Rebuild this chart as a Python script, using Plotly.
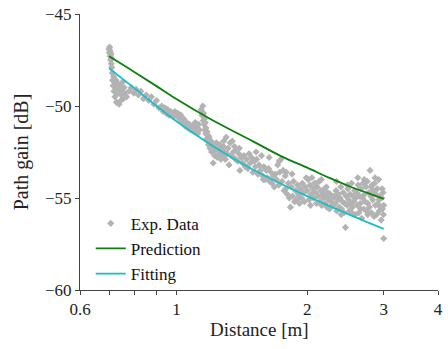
import math
import plotly.graph_objects as go

# ---- experimental data (distance in m, path gain in dB) ----
exp_distance = [
    0.700, 0.701, 0.702, 0.703, 0.704, 0.705, 0.706, 0.707, 0.708, 0.709, 0.710, 0.712,
    0.713, 0.715, 0.717, 0.718, 0.720, 0.722, 0.724, 0.726, 0.728, 0.730, 0.732, 0.735, 0.738, 0.740, 0.743, 0.746, 0.750, 0.755, 0.760,
    0.768, 0.778, 0.788, 0.798, 0.808, 0.818, 0.828, 0.840, 0.852, 0.864, 0.876, 0.888, 0.900, 0.912,
    0.925, 0.932, 0.940, 0.948, 0.955, 0.962, 0.970, 0.978, 0.985, 0.992, 1.000, 1.008, 1.016, 1.024, 1.032, 1.040, 1.048, 1.056, 1.064, 1.072, 1.080, 1.090, 1.100, 1.110, 1.120, 1.130,
    1.140, 1.145, 1.150, 1.152, 1.155, 1.158, 1.160, 1.162, 1.165, 1.168, 1.170, 1.173, 1.176, 1.180, 1.183, 1.186, 1.190, 1.195, 1.200, 1.205, 1.210, 1.215, 1.220, 1.225,
    1.230, 1.236, 1.242, 1.248, 1.254, 1.260, 1.266, 1.272, 1.278, 1.284, 1.290, 1.296, 1.302, 1.308, 1.315, 1.322, 1.330, 1.337, 1.345, 1.352, 1.360, 1.368, 1.376, 1.384, 1.392, 1.400, 1.410, 1.420, 1.430, 1.440,
    1.450, 1.460, 1.470, 1.480, 1.490, 1.500, 1.510, 1.520, 1.530, 1.540, 1.550, 1.560, 1.570, 1.580, 1.590, 1.600, 1.610, 1.620, 1.630, 1.640, 1.650, 1.660, 1.670, 1.680, 1.690, 1.700,
    1.710, 1.720, 1.730, 1.740, 1.750, 1.760, 1.770, 1.780, 1.790, 1.800, 1.810, 1.820, 1.830, 1.840, 1.850, 1.860, 1.870, 1.880, 1.890, 1.900, 1.910, 1.920, 1.930, 1.940, 1.950, 1.960, 1.970, 1.980, 1.990,
    2.00, 2.01, 2.02, 2.03, 2.04, 2.05, 2.06, 2.07, 2.08, 2.09, 2.10, 2.11, 2.12, 2.13, 2.14, 2.15, 2.16, 2.17, 2.18, 2.19, 2.20, 2.21, 2.22, 2.23, 2.24, 2.25, 2.26, 2.27, 2.28, 2.29,
    2.30, 2.31, 2.32, 2.33, 2.34, 2.35, 2.36, 2.37, 2.38, 2.39, 2.40, 2.41, 2.42, 2.43, 2.44, 2.45, 2.46, 2.47, 2.48, 2.49, 2.50, 2.51, 2.52, 2.53, 2.54, 2.55, 2.56, 2.57, 2.58, 2.59,
    2.60, 2.61, 2.62, 2.63, 2.64, 2.65, 2.66, 2.67, 2.68, 2.69, 2.70, 2.71, 2.72, 2.73, 2.74, 2.75, 2.76, 2.77, 2.78, 2.79,
    2.80, 2.81, 2.82, 2.83, 2.84, 2.85, 2.86, 2.87, 2.88, 2.89, 2.90, 2.91, 2.92, 2.93, 2.94, 2.95, 2.96, 2.97, 2.98, 2.99,
    3.000, 3.000, 2.995,
    0.745, 0.752, 0.758, 1.105, 1.125, 1.285, 1.355, 1.395, 1.455, 1.525, 1.585, 1.635, 1.725, 1.785, 1.845, 1.905,
    2.035, 2.095, 2.155, 2.215, 2.335, 2.395, 2.475, 2.535, 2.615, 2.655, 2.705, 2.755, 2.805, 2.865, 2.925, 2.975,
]
exp_gain = [
    -46.9, -47.1, -46.8, -47.0, -47.3, -47.1, -47.5, -47.2, -47.7, -47.4, -47.9, -48.2,
    -48.6, -48.9, -48.4, -49.2, -48.7, -49.5, -49.0, -48.6, -49.8, -48.9, -49.3, -48.8, -49.9, -49.1, -48.9, -49.4, -49.2, -49.6, -49.3,
    -49.5, -49.2, -49.0, -49.3, -49.1, -49.4, -49.2, -49.6, -49.4, -49.7, -49.5, -49.9, -49.7, -50.1,
    -50.0, -50.3, -50.1, -50.4, -50.2, -50.5, -50.3, -50.4, -50.6, -50.3, -50.5, -50.4, -50.7, -50.5, -50.9, -50.7, -51.1, -50.9, -51.2, -51.0, -51.3, -51.1, -51.4, -51.2, -51.5, -51.3,
    -50.2, -50.5, -50.0, -50.8, -50.4, -51.0, -50.7, -51.3, -50.9, -51.5, -51.2, -51.8, -51.4, -51.9, -51.6, -52.1, -51.7, -52.3, -51.9, -52.5, -52.0, -53.1, -52.2, -52.7,
    -52.4, -52.0, -52.8, -52.3, -52.6, -52.1, -52.9, -52.4, -52.7, -52.2, -52.5, -52.9, -51.7, -52.6, -52.3, -53.2, -52.0, -52.7, -51.9, -52.5, -52.2, -52.9, -52.4, -53.0, -52.6, -53.5, -52.8, -53.1, -52.7, -53.3,
    -52.9, -53.4, -52.6, -53.1, -52.8, -53.6, -53.0, -53.3, -52.9, -53.7, -53.2, -53.5, -52.7, -53.8, -53.3, -54.0, -53.5, -53.9, -53.4, -54.1, -53.6, -54.2, -53.8, -54.4, -53.7, -54.0,
    -53.2, -54.3, -53.6, -52.9, -54.1, -53.5, -54.6, -53.8, -53.6, -54.8, -54.2, -55.0, -55.5, -54.4, -54.9, -54.1, -55.2, -54.6, -55.1, -54.3, -54.8, -55.3, -54.5, -55.0, -54.2, -54.7, -55.2, -54.4, -53.9,
    -54.6, -54.0, -55.1, -54.3, -54.8, -53.9, -54.5, -55.0, -54.2, -54.7, -55.3, -54.4, -54.9, -54.1, -55.2, -54.6, -55.4, -54.8, -55.0, -54.5, -55.3, -54.9, -55.5, -54.7, -55.1, -55.6, -54.8, -55.2, -55.4, -55.0,
    -55.4, -54.9, -55.3, -54.6, -55.7, -55.1, -54.8, -55.5, -55.0, -54.4, -55.6, -55.2, -54.7, -55.8, -55.3, -56.6, -54.9, -55.4, -54.5, -55.1, -55.7, -54.8, -55.3, -54.2, -55.5, -54.9, -55.2, -54.6, -55.9, -55.0,
    -54.7, -55.4, -54.3, -55.8, -54.9, -55.3, -54.5, -56.1, -55.0, -54.2, -55.6, -54.8, -55.2, -54.4, -55.7, -54.1, -55.3, -54.7, -55.5, -53.5,
    -54.9, -55.8, -54.3, -55.1, -54.6, -56.0, -54.2, -55.4, -54.8, -55.9, -54.5, -55.3, -54.0, -55.7, -54.9, -55.5, -56.2, -55.0, -55.6, -54.7,
    -57.2, -55.4, -55.9,
    -49.7, -48.7, -49.0, -50.9, -51.0, -51.9, -52.8, -52.3, -53.3, -52.5, -54.0, -52.8, -53.0, -54.5, -53.7, -55.0,
    -55.4, -54.2, -54.0, -54.4, -54.1, -55.9, -54.3, -55.8, -53.9, -55.6, -54.0, -55.9, -54.4, -53.9, -55.1, -54.5,
]

# ---- model curves ----
pred_distance = [0.70, 0.80, 0.90, 1.00, 1.20, 1.50, 1.75, 2.00, 2.25, 2.50, 2.75, 3.00]
pred_gain = [-47.30, -48.15, -48.92, -49.62, -50.72, -51.92, -52.75, -53.35, -53.91, -54.36, -54.72, -55.05]

fit_distance = [0.70, 0.80, 0.90, 1.00, 1.20, 1.50, 2.00, 2.20, 2.50, 3.00]
fit_gain = [-47.95, -49.03, -50.00, -50.83, -52.10, -53.45, -54.90, -55.33, -55.90, -56.68]

x_tickvals = [0.6, 0.7, 0.8, 0.9, 1, 2, 3, 4]
x_ticktext = ["0.6", "", "", "", "1", "2", "3", "4"]
y_tickvals = [-60, -55, -50, -45]

FONT = "Liberation Serif"

fig = go.Figure()
fig.add_trace(go.Scatter(
    x=exp_distance, y=exp_gain, mode="markers", name="Exp. Data",
    marker=dict(symbol="diamond", size=5.5, color="#b3b3b3", line=dict(width=0)),
))
fig.add_trace(go.Scatter(
    x=pred_distance, y=pred_gain, mode="lines", name="Prediction",
    line=dict(color="#0d7f0d", width=1.8, shape="spline"),
))
fig.add_trace(go.Scatter(
    x=fit_distance, y=fit_gain, mode="lines", name="Fitting",
    line=dict(color="#18bfc8", width=1.8, shape="spline"),
))

fig.update_layout(
    width=448, height=349,
    margin=dict(l=80, r=5, t=14, b=59),
    paper_bgcolor="white", plot_bgcolor="white",
    font=dict(family=FONT, size=17, color="#222"),
    showlegend=True,
    legend=dict(x=0.03, y=0.305, xanchor="left", yanchor="top",
                bgcolor="rgba(0,0,0,0)", font=dict(family=FONT, size=17, color="#111"),
                tracegroupgap=0),
    xaxis=dict(
        type="log", range=[math.log10(0.6), math.log10(4)],
        tickmode="array", tickvals=x_tickvals, ticktext=x_ticktext,
        ticks="outside", ticklen=4, tickcolor="#444",
        showline=True, linecolor="#444", linewidth=1,
        showgrid=False, zeroline=False,
    ),
    yaxis=dict(
        range=[-60, -45],
        tickmode="array", tickvals=y_tickvals,
        ticks="outside", ticklen=4, tickcolor="#444",
        showline=True, linecolor="#444", linewidth=1,
        showgrid=False, zeroline=False,
        title=dict(text="Path gain [dB]", standoff=11),
    ),
    annotations=[dict(
        text="Distance [m]", xref="paper", yref="paper", x=0.5, y=-0.142,
        xanchor="center", yanchor="middle", showarrow=False,
        font=dict(family=FONT, size=19, color="#222"),
    )],
)

fig.write_html("out.html", config={"displayModeBar": False},
               post_script="document.body.style.margin='0';")
